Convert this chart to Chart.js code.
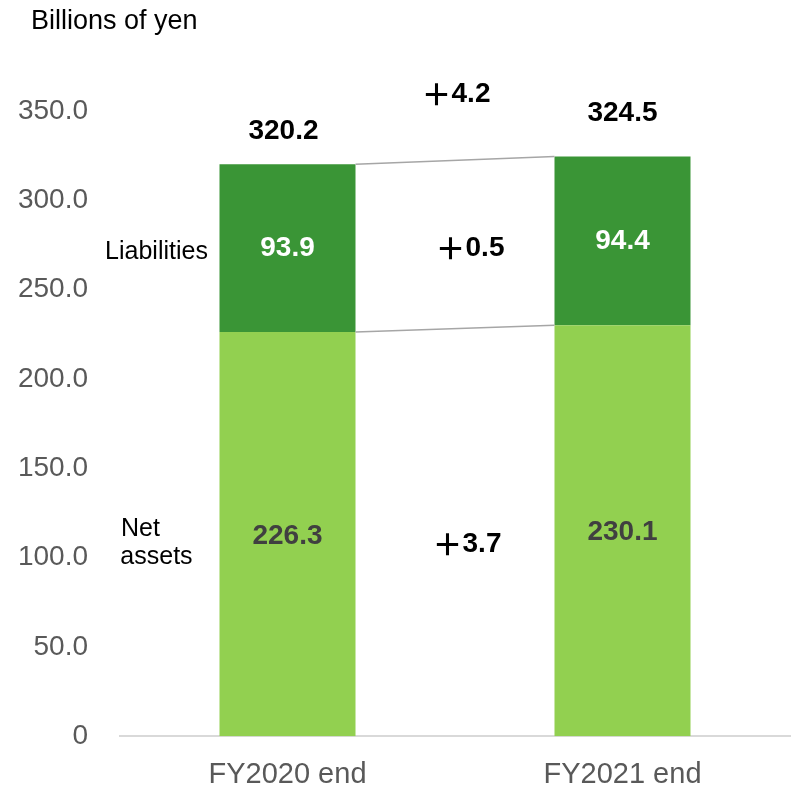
<!DOCTYPE html>
<html lang="en">
	<head>
		<meta charset="UTF-8" />
		<title>Net assets and liabilities</title>
		<script src="https://cdn.jsdelivr.net/npm/chart.js"></script>
		<style>
			html,
			body {
				margin: 0;
				padding: 0;
				background: #ffffff;
			}
			#chart-container {
				width: 796px;
				height: 785px;
			}
		</style>
	</head>
	<body>
		<div id="chart-container">
			<canvas id="bsChart" width="796" height="785"></canvas>
		</div>

		<script>
			const categories = ["FY2020 end", "FY2021 end"];
			const netAssets = [226.3, 230.1];
			const liabilities = [93.9, 94.4];
			const totals = [320.2, 324.5];
			const yTicks = [0, 50, 100, 150, 200, 250, 300, 350];
			const yTickLabels = ["0", "50.0", "100.0", "150.0", "200.0", "250.0", "300.0", "350.0"];
			// changes written between the bars
			const changeTotal = "＋4.2";
			const changeLiabilities = "＋0.5";
			const changeNetAssets = "＋3.7";

			const FONT = "Arial, 'Liberation Sans', sans-serif";
			const CJK = "'Noto Sans CJK JP', sans-serif";

			// the full-width plus comes from the CJK font, the digits from Arial
			function drawChange(ctx, text, cx, cy) {
				const sign = text.charAt(0);
				const num = text.slice(1);
				ctx.font = "bold 28px " + FONT;
				const numW = ctx.measureText(num).width;
				ctx.font = "bold 30px " + CJK;
				const signW = ctx.measureText(sign).width;
				const left = cx - (signW + numW) / 2;
				ctx.textAlign = "left";
				ctx.fillText(sign, left, cy - 1);
				ctx.font = "bold 28px " + FONT;
				ctx.fillText(num, left + signW, cy);
				ctx.textAlign = "center";
			}

			// draws the value labels, the change labels and the connector lines
			const annotations = {
				id: "annotations",
				afterDatasetsDraw(chart) {
					const ctx = chart.ctx;
					const y = chart.scales.y;
					const low = chart.getDatasetMeta(0).data;
					const high = chart.getDatasetMeta(1).data;
					const half = low[0].width / 2;

					ctx.save();

					// connector lines
					ctx.strokeStyle = "#a6a6a6";
					ctx.lineWidth = 1.5;
					ctx.beginPath();
					ctx.moveTo(high[0].x + half, y.getPixelForValue(totals[0]));
					ctx.lineTo(high[1].x - half, y.getPixelForValue(totals[1]));
					ctx.moveTo(low[0].x + half, y.getPixelForValue(netAssets[0]));
					ctx.lineTo(low[1].x - half, y.getPixelForValue(netAssets[1]));
					ctx.stroke();

					ctx.textAlign = "center";
					ctx.textBaseline = "middle";
					ctx.font = "bold 28px " + FONT;

					const topOffsets = [33, 43];
					for (let i = 0; i < categories.length; i++) {
						const x = low[i].x;
						const yTop = y.getPixelForValue(totals[i]);
						const yMid = y.getPixelForValue(netAssets[i]);
						const yZero = y.getPixelForValue(0);

						ctx.fillStyle = "#000000";
						ctx.fillText(totals[i].toFixed(1), x - 4 * (1 - i), yTop - topOffsets[i]);

						ctx.fillStyle = "#ffffff";
						ctx.fillText(liabilities[i].toFixed(1), x, (yTop + yMid) / 2);

						ctx.fillStyle = "#404040";
						ctx.fillText(netAssets[i].toFixed(1), x, (yMid + yZero) / 2 + 2);
					}

					// changes between the two years
					const xMid = (low[0].x + low[1].x) / 2;
					const liabMid =
						(y.getPixelForValue(totals[0]) + y.getPixelForValue(netAssets[0]) +
							y.getPixelForValue(totals[1]) + y.getPixelForValue(netAssets[1])) / 4;
					const netMid =
						(y.getPixelForValue(netAssets[0]) + y.getPixelForValue(netAssets[1])) / 4 +
						y.getPixelForValue(0) / 2;
					ctx.fillStyle = "#000000";
					drawChange(ctx, changeTotal, xMid + 1, y.getPixelForValue(totals[1]) - 62);
					drawChange(ctx, changeLiabilities, xMid + 15, liabMid + 4);
					drawChange(ctx, changeNetAssets, xMid + 12, netMid + 12);

					// series names left of the first bar
					ctx.font = "25px " + FONT;
					const nameX = low[0].x - half - 63;
					ctx.fillText("Liabilities", nameX, (y.getPixelForValue(totals[0]) + y.getPixelForValue(netAssets[0])) / 2 + 4);
					const netY = (y.getPixelForValue(netAssets[0]) + y.getPixelForValue(0)) / 2;
					ctx.fillText("Net", nameX - 16, netY - 5);
					ctx.fillText("assets", nameX, netY + 23);

					// unit
					ctx.textAlign = "left";
					ctx.font = "27px " + FONT;
					ctx.fillText("Billions of yen", 31, 22);

					ctx.restore();
				},
			};

			const ctx = document.getElementById("bsChart").getContext("2d");

			new Chart(ctx, {
				type: "bar",
				data: {
					labels: categories,
					datasets: [
						{
							label: "Net assets",
							data: netAssets,
							backgroundColor: "#92d050",
							barPercentage: 0.406,
							categoryPercentage: 1,
						},
						{
							label: "Liabilities",
							data: liabilities,
							backgroundColor: "#3a9536",
							barPercentage: 0.406,
							categoryPercentage: 1,
						},
					],
				},
				options: {
					responsive: false,
					animation: false,
					layout: {
						padding: { top: 111, right: 6, left: 0, bottom: 0 },
					},
					plugins: {
						legend: { display: false },
						tooltip: { enabled: false },
					},
					scales: {
						x: {
							stacked: true,
							grid: { display: false, drawTicks: false },
							border: { display: true, color: "#d9d9d9", width: 2 },
							ticks: {
								color: "#595959",
								font: { family: FONT, size: 29 },
								padding: 21,
							},
							afterFit(scale) {
								scale.height = 48;
							},
						},
						y: {
							stacked: true,
							min: 0,
							max: 350,
							grid: { display: false, drawTicks: false },
							border: { display: false },
							afterBuildTicks(scale) {
								scale.ticks = yTicks.map((v) => ({ value: v }));
							},
							ticks: {
								color: "#595959",
								font: { family: FONT, size: 28 },
								padding: 32,
								callback: (value) => yTickLabels[yTicks.indexOf(value)],
							},
							afterFit(scale) {
								scale.width = 120;
							},
						},
					},
				},
				plugins: [annotations],
			});
		</script>
	</body>
</html>
